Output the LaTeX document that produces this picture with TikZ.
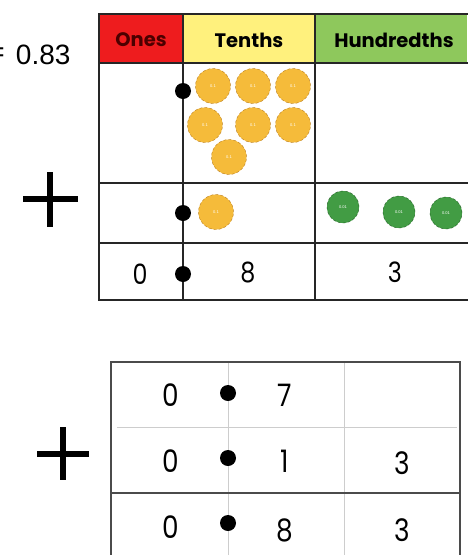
\documentclass[tikz,border=0pt]{standalone}
\usepackage{fontspec}
\setmainfont{Liberation Sans}
\newfontfamily\gothic[FakeStretch=0.85]{Poppins}
\newfontfamily\hdfont{Poppins}
\usetikzlibrary{positioning}

\definecolor{onesred}{RGB}{238,28,30}
\definecolor{tenthsyel}{RGB}{255,241,125}
\definecolor{hundgrn}{RGB}{142,200,92}
\definecolor{coinyel}{RGB}{245,187,58}
\definecolor{coinyeld}{RGB}{185,125,30}
\definecolor{coingrn}{RGB}{66,156,68}
\definecolor{coingrnd}{RGB}{35,95,38}
\definecolor{gridgray}{RGB}{205,205,205}
\definecolor{framegray}{RGB}{75,75,75}

\begin{document}
\begin{tikzpicture}
  [
   x=1pt, y=-1pt,
   hd/.style={font=\hdfont\bfseries\fontsize{19.5}{19.5}\selectfont},
   dg/.style={font=\gothic\fontsize{28}{28}\selectfont},
   bdg/.style={font=\gothic\fontsize{31}{31}\selectfont},
   pt/.style={circle,fill=black,inner sep=0pt,minimum size=16pt},
   tc/.style={circle,fill=coinyel,draw=coinyeld,densely dashed,inner sep=0pt,minimum size=35pt,text=white,font=\fontsize{4}{4}\selectfont},
   hc/.style={circle,fill=coingrn,draw=coingrnd,densely dashed,inner sep=0pt,minimum size=32pt,text=white,font=\fontsize{4}{4}\selectfont},
   pl/.style={line width=6pt},
   gl/.style={line width=2pt,draw=black!85}
  ]
   \useasboundingbox (0,0) rectangle (467,555);

   % place value chart
   \fill[onesred] (99,14) rectangle (183,63);
   \fill[tenthsyel] (183,14) rectangle (315,63);
   \fill[hundgrn] (315,14) rectangle (467,63);
   \draw[gl] (470,14) -- (99,14) -- (99,300) -- (470,300);
   \draw[gl] (99,63) -- (470,63);
   \draw[gl] (99,183) -- (470,183);
   \draw[gl] (99,243) -- (470,243);
   \draw[gl] (183,14) -- (183,300);
   \draw[gl] (315,14) -- (315,300);

   \node[hd,text=black!70!red] (ones) at (141,40) {Ones};
   \node[hd] (tenths) at (249,40) {Tenths};
   \node[hd] (hund) at (394,40) {Hundredths};

   \node[font=\fontsize{28}{28}\selectfont,anchor=east] (sum) at (74,55) {0.83};
   \node[font=\fontsize{28}{28}\selectfont,anchor=east,inner sep=0pt] (eq) at (5,55) {=};

   \node[pt] (p1) at (183,91) {};
   \node[pt] (p2) at (183,213) {};
   \node[pt] (p3) at (183,274) {};

   \node[tc] (t1) at (213,86) {0.1};
   \node[tc] (t2) at (253,86) {0.1};
   \node[tc] (t3) at (293,86) {0.1};
   \node[tc] (t4) at (205,125) {0.1};
   \node[tc] (t5) at (253,125) {0.1};
   \node[tc] (t6) at (293,125) {0.1};
   \node[tc] (t7) at (229,157) {0.1};
   \node[tc] (t8) at (216,212) {0.1};

   \node[hc] (h1) at (343,207) {0.01};
   \node[hc] (h2) at (399,212) {0.01};
   \node[hc] (h3) at (446,213) {0.01};

   \node[dg] (a1) at (140,274) {0};
   \node[dg] (a2) at (248,272) {8};
   \node[dg] (a3) at (395,272) {3};

   \draw[pl] (23,199) -- (78,199);
   \draw[pl] (50,172) -- (50,227);

   % written sum
   \draw[gridgray,line width=1pt] (117,427) -- (457,427);
   \draw[gridgray,line width=1pt] (228,362) -- (228,560);
   \draw[gridgray,line width=1pt] (344,362) -- (344,560);
   \draw[framegray,line width=2pt] (111,560) -- (111,362) -- (460,362) -- (460,560);
   \draw[framegray,line width=2.5pt] (111,493) -- (460,493);

   \node[pt] (q1) at (228,393) {};
   \node[pt] (q2) at (228,458) {};
   \node[pt] (q3) at (228,523) {};

   \node[bdg] (b1) at (171,395) {0};
   \node[bdg] (b2) at (285,395) {7};
   \node[bdg] (b3) at (171,461) {0};
   \node[bdg] (b4) at (285,461) {1};
   \node[bdg] (b5) at (402,463) {3};
   \node[bdg] (b6) at (171,527) {0};
   \node[bdg] (b7) at (285,530) {8};
   \node[bdg] (b8) at (402,530) {3};

   \draw[pl,line width=5.5pt] (37,454) -- (89,454);
   \draw[pl,line width=5.5pt] (63,427) -- (63,480);

\end{tikzpicture}
\end{document}
